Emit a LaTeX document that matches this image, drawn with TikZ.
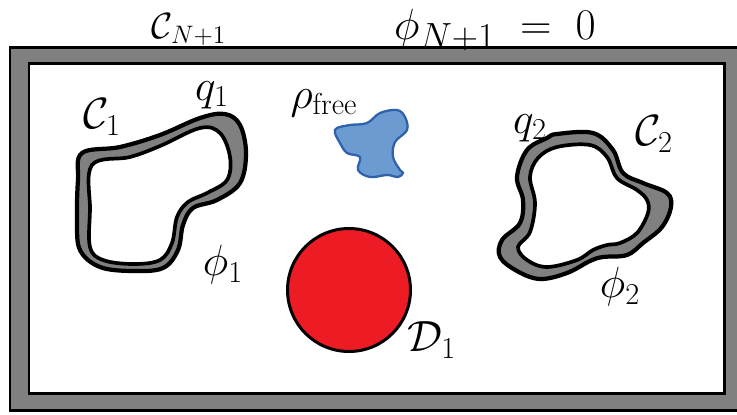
\documentclass[tikz,border=0pt]{standalone}
\usepackage{tikz}
\tikzset{
  lbl/.style={inner sep=0pt, font=\fontsize{24}{28}\selectfont},
  toplbl/.style={inner sep=0pt, anchor=base, font=\fontsize{22}{26}\selectfont},
  biglbl/.style={inner sep=0pt, anchor=base, font=\fontsize{29}{33}\selectfont},
  shell/.style={fill=shellgray, draw=black, line width=2.4pt},
  hole/.style={fill=white, draw=black, line width=2.1pt},
  frame/.style={draw=black, line width=1.7pt},
}
\definecolor{shellgray}{HTML}{808080}
\definecolor{chargeblue}{HTML}{6B9BD1}
\definecolor{chargeedge}{HTML}{2F62AC}
\definecolor{diskred}{HTML}{ED1C24}

\begin{document}
\begin{tikzpicture}[x=0.02cm, y=-0.02cm]
  \clip (0,0) rectangle (737,414);
  \fill[white] (0,0) rectangle (737,414);
  \draw[frame, fill=shellgray] (10,47) rectangle (760,410);
  \draw[frame, fill=white] (29,63) rectangle (724,393);

  \draw[shell] plot[smooth cycle, tension=0.6] coordinates {(82,153) (120,147) (160,135) (200,118) (225,114) (240,125) (246,153) (240,183) (217,200) (193,208) (183,225) (178,250) (163,268) (133,271) (100,267) (80,250) (77,220) (78,180)};
  \draw[hole] plot[smooth cycle, tension=0.6] coordinates {(92,165) (130,157) (160,146) (200,128) (220,133) (230,157) (227,180) (207,193) (188,202) (177,217) (172,243) (160,260) (133,264) (103,260) (90,247) (90,210)};

  \draw[shell] plot[smooth cycle, tension=0.6] coordinates {(547,138) (557,134) (593,133) (613,150) (623,173) (643,183) (667,193) (671,207) (662,227) (643,243) (627,255) (603,257) (590,261) (567,273) (540,279) (517,271) (500,257) (502,240) (520,223) (523,200) (517,177) (527,150)};
  \draw[hole] plot[smooth cycle, tension=0.6] coordinates {(557,147) (590,145) (607,157) (617,178) (637,190) (647,200) (648,213) (637,233) (620,243) (607,245) (593,250) (577,260) (547,267) (527,260) (518,247) (530,232) (535,203) (530,177) (538,158)};

  \draw[fill=chargeblue, draw=chargeedge, line width=1.3pt] plot[smooth cycle, tension=0.6] coordinates {(337,128) (350,125) (367,123) (380,113) (397,110) (405,117) (407,130) (395,142) (393,157) (400,170) (403,173) (398,177) (387,175) (370,177) (358,170) (360,157) (347,153) (340,143) (335,133)};

  \node[circle, fill=diskred, draw=black, line width=1.7pt, minimum size=2.46cm, inner sep=0pt] (disk) at (349,290) {};

  \node[toplbl] (cn) at (189,38) {$\mathcal{C}_{N+1}$};
  \node[biglbl] (phin) at (495,39) {$\phi_{N+1} \;=\; 0$};
  \node[lbl] (c1) at (102,117) {$\mathcal{C}_1$};
  \node[lbl] (q1) at (212,95) {$q_1$};
  \node[lbl] (phi1) at (223,265) {$\phi_1$};
  \node[lbl] (rho) at (324,103) {$\rho_{\mathrm{free}}$};
  \node[lbl] (q2) at (530,128) {$q_2$};
  \node[lbl] (c2) at (654,134) {$\mathcal{C}_2$};
  \node[lbl] (phi2) at (620,287) {$\phi_2$};
  \node[lbl] (d1) at (432,340) {$\mathcal{D}_1$};
\end{tikzpicture}
\end{document}
